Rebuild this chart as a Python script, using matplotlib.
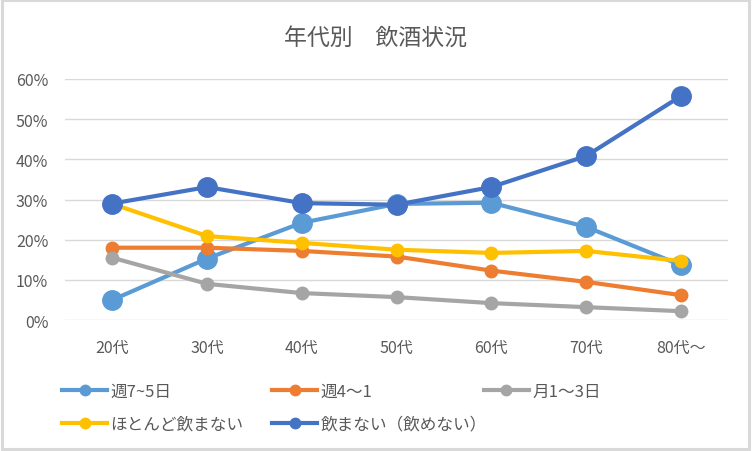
import matplotlib
matplotlib.use("Agg")
import matplotlib.pyplot as plt
from matplotlib.patches import Rectangle
from matplotlib.ticker import PercentFormatter

plt.rcParams['font.family'] = ['Noto Sans CJK JP', 'DejaVu Sans']

# data
ages = ["20代", "30代", "40代", "50代", "60代", "70代", "80代～"]
s_week75 = [0.050, 0.153, 0.242, 0.289, 0.292, 0.232, 0.137]
s_week41 = [0.180, 0.180, 0.172, 0.158, 0.123, 0.095, 0.062]
s_month13 = [0.155, 0.090, 0.067, 0.057, 0.042, 0.032, 0.022]
s_rarely = [0.289, 0.209, 0.192, 0.175, 0.167, 0.172, 0.147]
s_never = [0.290, 0.331, 0.291, 0.287, 0.331, 0.408, 0.557]
names = ["週7~5日", "週4～1", "月1～3日", "ほとんど飲まない", "飲まない（飲めない）"]
colors = ["#5B9BD5", "#ED7D31", "#A5A5A5", "#FFC000", "#4472C4"]
msizes = [14, 9, 9, 9, 14]

txt = "#595959"
fig = plt.figure(figsize=(7.52, 4.52), dpi=100)
ax = fig.add_axes([65/752, 1-321/452, 663/752, 241/452])

x = range(len(ages))
for vals, name, c, ms in zip([s_week75, s_week41, s_month13, s_rarely, s_never], names, colors, msizes):
    ax.plot(x, vals, color=c, lw=3, marker='o', ms=ms, label=name)

ax.set_xlim(-0.5, 6.5)
ax.set_ylim(0, 0.6)
ax.set_yticks([0, 0.1, 0.2, 0.3, 0.4, 0.5, 0.6])
ax.yaxis.set_major_formatter(PercentFormatter(1.0, decimals=0))
ax.set_xticks(list(x))
ax.set_xticklabels(ages)
ax.tick_params(length=0, labelsize=11.5, colors=txt)
ax.tick_params(axis='y', pad=12)
ax.tick_params(axis='x', pad=14)
ax.grid(axis='y', color="#D9D9D9", lw=1)
ax.set_axisbelow(True)
for sp in ax.spines.values():
    sp.set_visible(False)

fig.text(0.5, 1-38/452, "年代別　飲酒状況", ha='center', va='center', fontsize=16.5, color=txt)

# legend: three columns placed like the Excel legend
cols = [[0, 3], [1, 4], [2]]
col_x = [62, 272, 484]
for cx, idx in zip(col_x, cols):
    small = []
    for i in idx:
        h, = ax.plot([], [], color=colors[i], lw=3, marker='o', ms=7.5)
        small.append(h)
    fig.legend(small, [names[i] for i in idx], loc='upper left',
               bbox_to_anchor=(cx/752, 1-384/452), frameon=False, fontsize=12,
               handlelength=2.7, handletextpad=0.2, labelspacing=0.93,
               labelcolor=txt, borderaxespad=0, borderpad=0)

fig.patches.append(Rectangle((0.002, 0.004), 0.994, 0.993, transform=fig.transFigure,
                             fill=False, edgecolor="#D9D9D9", lw=2.2))

fig.savefig("out.png", dpi=100)
